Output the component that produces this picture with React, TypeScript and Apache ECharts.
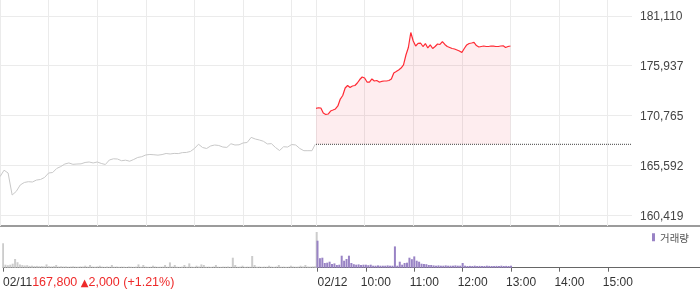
import React, { useEffect, useRef } from 'react';
import * as echarts from 'echarts';

// ---- data ----
const DAY_MINUTES = 390; // 09:00 - 15:30
const TOTAL_POINTS = 781; // two sessions, last point = 15:30 of day 2
const prevDate = '02/11';
const curDate = '02/12';
const prevClose = 167800;
const prevChange = 2000;
const prevChangePct = 1.21;
const yTickLabels = [160419, 165592, 170765, 175937, 181110];

const prevDayStep = 5;
const prevDayPrices = [
  164450, 165120, 164830, 162550, 162920, 163590, 163850, 163930, 163900, 164100,
  164160, 164370, 164830, 164880, 165300, 165500, 165760, 165870, 165730, 165760,
  165780, 165920, 165970, 165870, 165970, 165820, 165710, 166180, 166300, 166280,
  166100, 166160, 166050, 166230, 166440, 166520, 166700, 166750, 166720, 166680,
  166740, 166850, 166800, 166860, 166840, 166940, 166960, 167060, 167370, 167810,
  167470, 167370, 167630, 167730, 167680, 167520, 167480, 167860, 167730, 167750,
  167940, 167990, 168520, 168350, 168250, 168120, 167840, 167870, 167470, 167160,
  167550, 167520, 167780, 167730, 167370, 167140, 167140, 167140,
];

const todayStep = 3;
const todayPrices = [
  171530, 171590, 171560, 171040, 170890, 170940, 171250, 171350, 171460, 171770,
  172490, 172860, 173630, 173890, 173690, 173840, 173890, 174150, 174510, 174770,
  174670, 174250, 174250, 174570, 174360, 174410, 174250, 174310, 174360, 174360,
  174410, 174570, 175190, 175340, 175500, 175700, 176020, 177050, 177830, 179380,
  178500, 177980, 178260, 178290, 177930, 178240, 177780, 178090, 177720, 177930,
  178190, 178140, 178430, 178140, 177930, 177830, 177720, 177670, 177570, 177470,
  177310, 177720, 178090, 178240, 178290, 178350, 178030, 177880, 177930, 177980,
  177930, 177930, 177980, 177960, 177930, 177930, 177980, 178000, 177830, 177930,
  177980,
];

const volumeStep = 3;
const prevDayVolumes = [
  24400, 3000, 2500, 3000, 4000, 8700, 5500, 3200, 2600, 2200,
  2500, 1800, 2000, 1600, 1800, 1500, 1700, 1400, 3300, 1500,
  1300, 1600, 2700, 1200, 1400, 1100, 1300, 1000, 1200, 1400,
  1100, 1000, 1300, 1200, 2000, 1100, 2700, 1200, 1000, 1300,
  2000, 1100, 900, 1200, 1000, 2700, 1000, 1200, 900, 1100,
  1000, 800, 1200, 1000, 900, 1100, 3300, 1000, 2700, 1100,
  900, 1000, 2000, 1200, 900, 1000, 1100, 2700, 1000, 5300,
  1200, 2700, 1000, 900, 1100, 2700, 1000, 4300, 1100, 900,
  2000, 1200, 3300, 2700, 1000, 1100, 900, 1200, 2700, 1000,
  900, 1100, 1000, 1200, 900, 10000, 2700, 1000, 1100, 2000,
  900, 1100, 1000, 11700, 2700, 1000, 1200, 900, 1100, 1000,
  2000, 1100, 900, 1200, 2700, 1000, 1100, 900, 1000, 2000,
  1200, 1000, 1100, 2000, 1300, 2700, 1200, 1100, 1300, 1400,
];
const prevCloseVolume = 35700;
const todayVolumes = [
  27000, 9500, 10000, 4700, 5000, 6000, 3700, 4300, 2700, 3000,
  12000, 7000, 8700, 12000, 4700, 3500, 3000, 3300, 2700, 3000,
  3000, 2500, 3000, 2000, 2000, 2300, 2000, 2000, 2000, 2300,
  2000, 2000, 21300, 2000, 6000, 3000, 4700, 5000, 10000, 8500,
  11300, 7000, 6000, 4000, 3700, 3500, 2700, 2700, 2300, 2000,
  2300, 2000, 2000, 2300, 2000, 2000, 2000, 2300, 2000, 2000,
  4700, 2000, 1700, 1800, 1700, 2000, 1700, 1800, 1700, 1700,
  2000, 1800, 1700, 1700, 1800, 1700, 2000, 1700, 1800, 1700,
  2000,
];
const volumeMax = 40000;

// ---- derived tables ----
const pad = (n: number) => (n < 10 ? '0' + n : '' + n);
const categories: string[] = [];
for (let i = 0; i < TOTAL_POINTS; i++) {
  const day = i < DAY_MINUTES ? prevDate : curDate;
  const m = 9 * 60 + (i < DAY_MINUTES ? i : i - DAY_MINUTES);
  categories.push(`${day} ${pad(Math.floor(m / 60))}:${pad(m % 60)}`);
}

const prevSeries: (number | null)[] = new Array(TOTAL_POINTS).fill(null);
prevDayPrices.forEach((v, i) => (prevSeries[i * prevDayStep] = v));
prevSeries[DAY_MINUTES - 1] = prevClose;

const todaySeries: (number | null)[] = new Array(TOTAL_POINTS).fill(null);
todayPrices.forEach((v, i) => (todaySeries[DAY_MINUTES + i * todayStep] = v));

const baseSeries: (number | null)[] = new Array(TOTAL_POINTS).fill(null);
baseSeries[DAY_MINUTES] = prevClose;
baseSeries[TOTAL_POINTS - 1] = prevClose;

const GRAY = '#cccccc';
const PURPLE = '#9983c5';
const volData: any[] = new Array(TOTAL_POINTS).fill('-');
prevDayVolumes.forEach((v, i) => (volData[i * volumeStep] = { value: v, itemStyle: { color: GRAY } }));
volData[DAY_MINUTES - 1] = { value: prevCloseVolume, itemStyle: { color: GRAY } };
todayVolumes.forEach((v, i) => (volData[DAY_MINUTES + i * volumeStep] = v));

const fmt = (n: number) => Math.round(n).toLocaleString('en-US');

const isGridLine = (index: number) =>
  (index < DAY_MINUTES && index % 60 === 0) ||
  (index >= DAY_MINUTES && index < TOTAL_POINTS - 1 && (index - DAY_MINUTES) % 60 === 0);
const isLabel = (index: number) =>
  index === 0 ||
  (index >= DAY_MINUTES && index < TOTAL_POINTS - 1 && (index - DAY_MINUTES) % 60 === 0);

// ---- layout ----
const FONT = "'Liberation Sans', Arial, sans-serif";
const PRICE_TOP = 0;
const PRICE_H = 226;
const TICK_TOP = 15.8;
const TICK_H = 199.8;
const RIGHT = 68;
const tickSpan = yTickLabels[yTickLabels.length - 1] - yTickLabels[0];
const priceMax = yTickLabels[yTickLabels.length - 1] + ((TICK_TOP - PRICE_TOP) / TICK_H) * tickSpan;
const priceMin = yTickLabels[0] - ((PRICE_TOP + PRICE_H - TICK_TOP - TICK_H) / TICK_H) * tickSpan;

export default function App() {
  const ref = useRef<HTMLDivElement>(null);
  useEffect(() => {
    document.body.style.margin = '0';
    const chart = echarts.init(ref.current!, null, { renderer: 'svg' });
    const option: any = {
      animation: false,
      textStyle: { fontFamily: FONT },
      grid: [
        { left: 0, right: RIGHT, top: PRICE_TOP, height: PRICE_H },
        { left: 0, right: RIGHT, top: TICK_TOP, height: TICK_H },
        { left: 0, right: RIGHT, top: 227.7, height: 40 },
      ],
      legend: {
        data: ['거래량'],
        left: 652,
        top: 232,
        padding: 0,
        icon: 'rect',
        itemWidth: 3,
        itemHeight: 8,
        selectedMode: false,
        textStyle: { fontSize: 10.5, color: '#555', fontFamily: "'Noto Sans CJK KR', sans-serif" },
      },
      xAxis: [
        {
          type: 'category',
          gridIndex: 0,
          data: categories,
          boundaryGap: false,
          axisLine: { show: false },
          axisTick: { show: false },
          axisLabel: { show: false },
          splitLine: { show: true, interval: isGridLine, lineStyle: { color: '#ebebeb', width: 1 } },
        },
        { type: 'value', gridIndex: 1, show: false, min: 0, max: 1 },
        {
          type: 'category',
          gridIndex: 2,
          data: categories,
          boundaryGap: false,
          axisLine: { show: true, lineStyle: { color: '#666', width: 1 } },
          axisTick: { show: true, interval: isLabel, length: 4, lineStyle: { color: '#666' } },
          splitLine: { show: false },
          axisLabel: {
            interval: isLabel,
            margin: 8,
            fontSize: 12,
            color: '#333',
            fontFamily: FONT,
            alignMinLabel: 'left',
            formatter: (value: string, index: number) => {
              if (index === 0)
                return `{d|${prevDate}}{r|${fmt(prevClose)} }{t|▲}{r|${fmt(prevChange)} (+${prevChangePct.toFixed(2)}%)}`;
              if (index === DAY_MINUTES) return `{p|${curDate}}`;
              return `{h|${value.slice(-5)}}`;
            },
            rich: {
              d: { fontSize: 12, color: '#333', fontFamily: FONT },
              r: { fontSize: 12.5, color: '#ee2a2a', fontFamily: FONT },
              t: { fontSize: 10, color: '#ee2a2a', fontFamily: "'DejaVu Sans', sans-serif" },
              p: { fontSize: 12, color: '#333', fontFamily: FONT, padding: [0, 0, 0, 30] },
              h: { fontSize: 12, color: '#333', fontFamily: FONT, padding: [0, 0, 0, 20] },
            },
          },
        },
      ],
      yAxis: [
        { type: 'value', gridIndex: 0, min: priceMin, max: priceMax, show: false },
        {
          type: 'value',
          gridIndex: 1,
          position: 'right',
          min: yTickLabels[0],
          max: yTickLabels[yTickLabels.length - 1],
          interval: tickSpan / (yTickLabels.length - 1),
          axisLine: { show: false },
          axisTick: { show: false },
          splitLine: { show: true, lineStyle: { color: '#ebebeb', width: 1 } },
          axisLabel: {
            margin: 8,
            fontSize: 12,
            color: '#444',
            fontFamily: FONT,
            formatter: (v: number) =>
              fmt(yTickLabels.reduce((a, b) => (Math.abs(b - v) < Math.abs(a - v) ? b : a))),
          },
        },
        { type: 'value', gridIndex: 2, min: 0, max: volumeMax, show: false },
      ],
      series: [
        {
          type: 'line',
          name: 'prev',
          xAxisIndex: 0,
          yAxisIndex: 0,
          data: prevSeries,
          connectNulls: true,
          showSymbol: false,
          silent: true,
          lineStyle: { color: '#c8c8c8', width: 1 },
        },
        {
          type: 'line',
          name: 'today',
          xAxisIndex: 0,
          yAxisIndex: 0,
          data: todaySeries,
          connectNulls: true,
          showSymbol: false,
          silent: true,
          lineStyle: { color: '#ff2b35', width: 1.2 },
          areaStyle: { color: 'rgba(245, 60, 80, 0.13)', origin: prevClose },
        },
        {
          type: 'line',
          name: 'base',
          xAxisIndex: 0,
          yAxisIndex: 0,
          data: baseSeries,
          connectNulls: true,
          showSymbol: false,
          silent: true,
          lineStyle: { color: '#444', width: 1, type: [1, 1] },
        },
        {
          type: 'bar',
          name: '거래량',
          xAxisIndex: 2,
          yAxisIndex: 2,
          data: volData,
          barWidth: 2,
          silent: true,
          itemStyle: { color: PURPLE },
        },
      ],
      graphic: [
        {
          type: 'line',
          shape: { x1: 0, y1: 226, x2: 700, y2: 226 },
          style: { stroke: '#7a7a7a', lineWidth: 1.5 },
          silent: true,
        },
        {
          type: 'line',
          shape: { x1: 632, y1: 267.5, x2: 700, y2: 267.5 },
          style: { stroke: '#666', lineWidth: 1 },
          silent: true,
        },
      ],
    };
    chart.setOption(option);
    return () => chart.dispose();
  }, []);
  return (
    <div
      ref={ref}
      style={{ position: 'fixed', left: 0, top: 0, width: 700, height: 289 }}
    />
  );
}
